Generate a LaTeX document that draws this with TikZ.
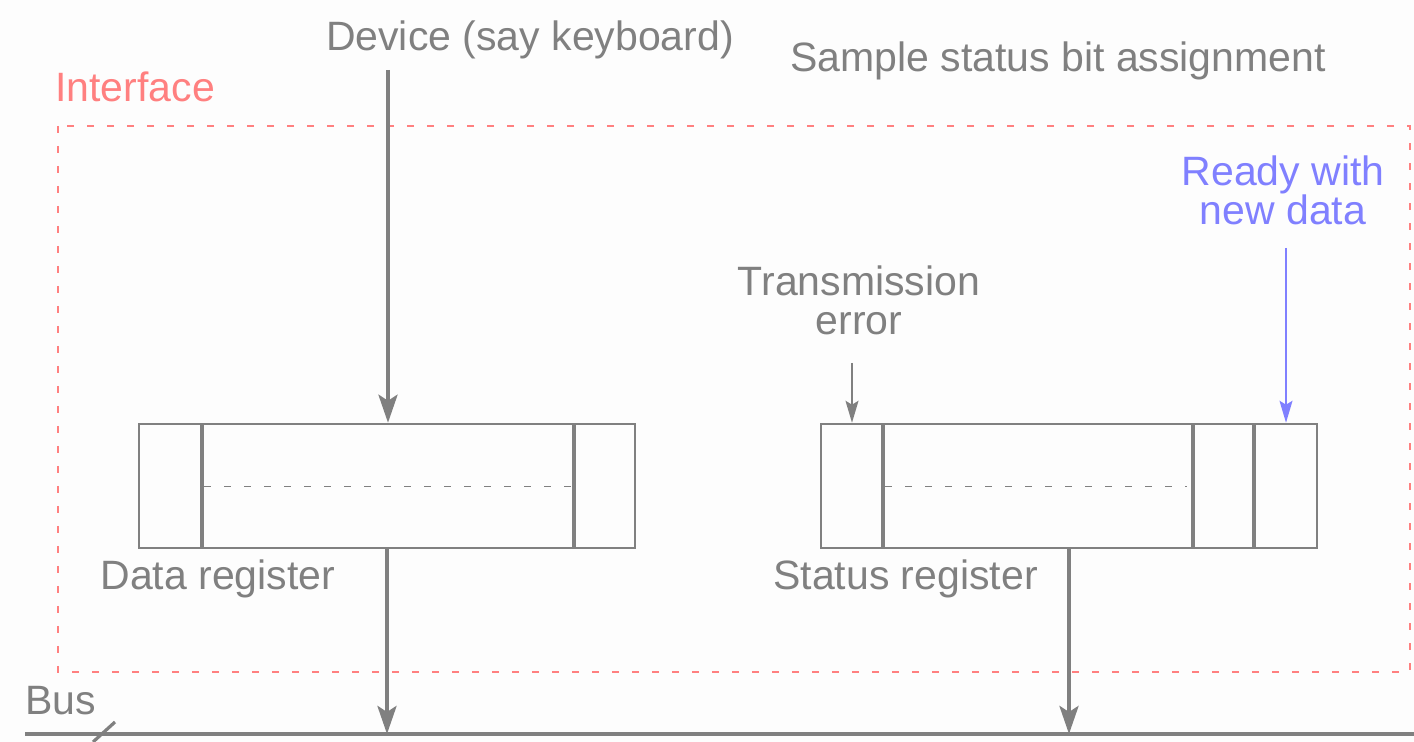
\documentclass[tikz,border=0pt]{standalone}
\usepackage{fontspec}
\setmainfont{Liberation Sans}
\usetikzlibrary{arrows.meta}
\definecolor{wiregray}{RGB}{128,128,128}
\definecolor{ifred}{RGB}{255,128,128}
\definecolor{readyblue}{RGB}{128,128,255}
\definecolor{paper}{RGB}{253,253,253}
\begin{document}
\begin{tikzpicture}[x=0.5pt,y=-0.5pt,
 lbl/.style={inner sep=0pt,text=wiregray,font=\fontsize{20.5}{19.5}\selectfont},
 reg/.style={draw=wiregray,line width=1.25pt,minimum width=248pt,minimum height=62pt,inner sep=0pt},
 sep/.style={draw=wiregray,line width=1.6pt},
 mid/.style={draw=wiregray,line width=0.5pt,dash pattern=on 3.5pt off 6.5pt},
 fat/.style={draw=wiregray,line width=2pt,-{Stealth[length=14pt,width=9.5pt,inset=3pt]}},
 thin/.style={line width=0.75pt,-{Stealth[length=11pt,width=6.5pt,inset=2pt]}}]
 \fill[paper] (0,0) rectangle (1414,742);
 \useasboundingbox (0,0) rectangle (1414,742);
 % interface frame
 \draw[ifred,line width=1pt,dash pattern=on 3.5pt off 6.5pt] (58,126) rectangle (1410,672);
 \node[lbl,anchor=base west,text=ifred] (iface) at (55,102) {Interface};
 % registers
 \node[reg] (data) at (387,486) {};
 \node[reg] (status) at (1069,486) {};
 \draw[sep] (202,424) -- (202,549);
 \draw[sep] (574,424) -- (574,549);
 \draw[sep] (883,424) -- (883,549);
 \draw[sep] (1193,424) -- (1193,549);
 \draw[sep] (1254,424) -- (1254,549);
 \draw[mid] (204,487) -- (572,487);
 \draw[mid] (885,487) -- (1187,487);
 % labels
 \node[lbl,anchor=base] (dev) at (530,51) {Device (say keyboard)};
 \node[lbl,anchor=base] (sample) at (1058,72) {Sample status bit assignment};
 \node[lbl,anchor=north,align=center,text=readyblue] (ready) at (1283,155) {Ready with\\new data};
 \node[lbl,anchor=north,align=center] (txerr) at (859,265) {Transmission\\error};
 \node[lbl,anchor=base west] (datalbl) at (100,590) {Data register};
 \node[lbl,anchor=base west] (statlbl) at (773,590) {Status register};
 \node[lbl,anchor=base west] (buslbl) at (25,714) {Bus};
 % bus
 \coordinate (busL) at (25,734);
 \coordinate (busR) at (1414,734);
 \draw[wiregray,line width=2pt] (busL) -- (busR);
 \draw[wiregray,line width=1.6pt] (93,742) -- (115,722);
 % arrows
 \coordinate (devout) at (388,70);
 \coordinate (txin) at (852,363);
 \coordinate (rdyin) at (1286,248);
 \draw[fat] (devout) -- (devout |- data.north);
 \draw[fat] (data.south) -- (data.south |- busL);
 \draw[fat] (status.south) -- (status.south |- busL);
 \draw[thin,wiregray] (txin) -- (txin |- status.north);
 \draw[thin,readyblue] (rdyin) -- (rdyin |- status.north);
\end{tikzpicture}
\end{document}
